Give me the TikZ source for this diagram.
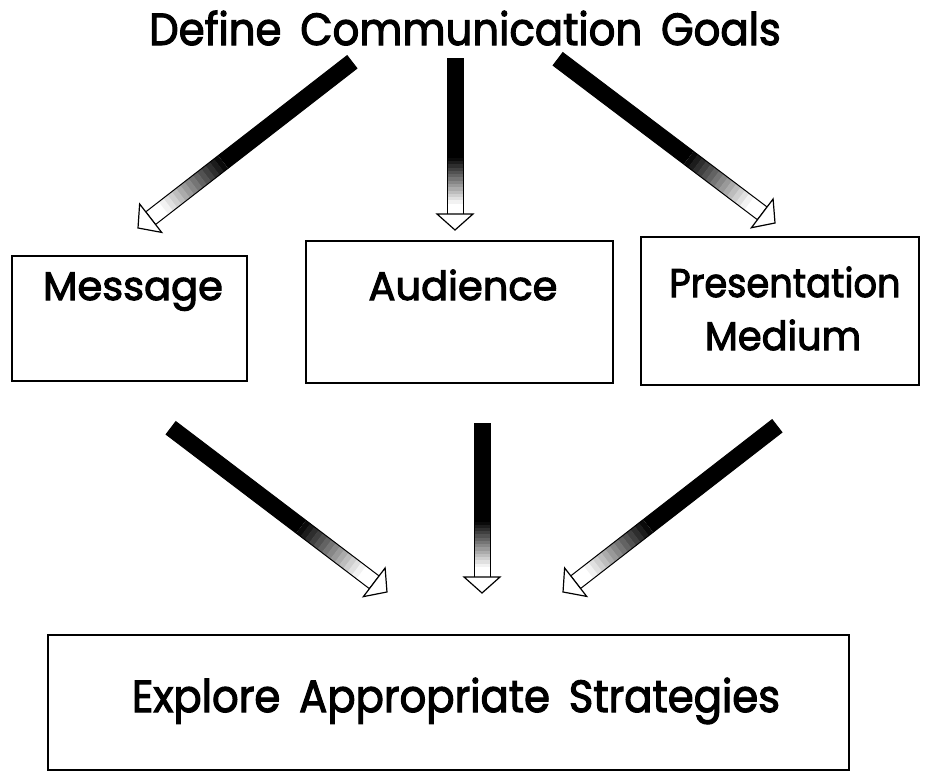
\documentclass[tikz,border=0pt]{standalone}
\usepackage{fontspec}
\newfontfamily\dfont{Poppins}[FakeBold=2.6]
\usetikzlibrary{calc}

\newcommand\fatarrow[2]{%
  \path (#1); \pgfgetlastxy{\fax}{\fay}%
  \path (#2); \pgfgetlastxy{\fbx}{\fby}%
  \pgfmathsetmacro\fang{atan2(\fby-\fay,\fbx-\fax)}%
  \pgfmathsetmacro\flen{veclen(\fbx-\fax,\fby-\fay)}%
  \pgfmathsetmacro\fw{8}%
  \pgfmathsetmacro\fhw{18}%
  \pgfmathsetmacro\fhl{16}%
  \pgfmathsetmacro\fL{\flen-\fhl}%
  \begin{scope}[shift={(#1)},rotate=\fang,x=1pt,y=1pt]
    \fill[white] (0,-\fw) rectangle (\fL,\fw);
    \fill[black] (0,-\fw) rectangle ({0.64*\fL},\fw);
    \foreach \k in {0,...,13}{%
      \pgfmathtruncatemacro\pc{96-\k*7}%
      \fill[black!\pc] ({(0.64+0.021*\k)*\fL},-\fw) rectangle ({(0.64+0.021*(\k+1))*\fL+0.4},\fw);
    }
    \draw[line width=1] (0,-\fw) rectangle (\fL,\fw);
    \draw[line width=1.2,fill=white,line join=miter] (\fL,-\fhw) -- (\flen,0) -- (\fL,\fhw) -- cycle;
  \end{scope}}

\begin{document}
\begin{tikzpicture}[x=1pt,y=-1pt,
  box/.style={draw,line width=1.8,anchor=north west,inner sep=0pt},
  lbl/.style={font=\dfont\fontsize{40}{44}\selectfont,anchor=base,inner sep=0pt},
  big/.style={font=\dfont\fontsize{45}{50}\selectfont,anchor=base,inner sep=0pt,xscale=0.93,transform shape}]
\useasboundingbox[fill=white] (0,0) rectangle (932,771);

% title
\node[big] (goal) at (465,45) {Define\hspace{0.45em}Communication\hspace{0.45em}Goals};

% middle boxes
\node[box,minimum width=235,minimum height=125] (msg) at (11,255) {};
\node[box,minimum width=307,minimum height=142] (aud) at (305,240) {};
\node[box,minimum width=278,minimum height=148] (med) at (640,236) {};
\node[lbl] (msgt) at (133,300) {Message};
\node[lbl] (audt) at (463,300) {Audience};
\node[lbl,xscale=0.92,transform shape] (medt1) at (785,297) {Presentation};
\node[lbl,xscale=0.96,transform shape] (medt2) at (783,350) {Medium};

% bottom box
\node[box,minimum width=801,minimum height=135] (exp) at (47,634) {};
\node[big] (expt) at (456,712) {Explore\hspace{0.45em}Appropriate\hspace{0.45em}Strategies};

% arrow end points
\coordinate (a1s) at (352,62);  \coordinate (a1e) at (138,228);
\coordinate (a2s) at (455,58);  \coordinate (a2e) at (455,230);
\coordinate (a3s) at (558,59);  \coordinate (a3e) at (775,223);
\coordinate (a4s) at (171,428); \coordinate (a4e) at (387,592);
\coordinate (a5s) at (482,423); \coordinate (a5e) at (482,593);
\coordinate (a6s) at (777,426); \coordinate (a6e) at (563,592);

\fatarrow{a1s}{a1e}
\fatarrow{a2s}{a2e}
\fatarrow{a3s}{a3e}
\fatarrow{a4s}{a4e}
\fatarrow{a5s}{a5e}
\fatarrow{a6s}{a6e}
\end{tikzpicture}
\end{document}
